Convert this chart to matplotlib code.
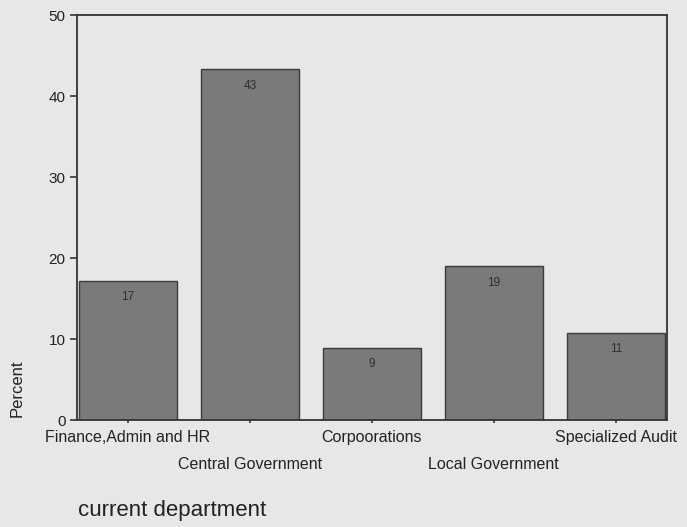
import matplotlib.pyplot as plt
import numpy as np

# data
departments = ["Finance,Admin and HR", "Central Government", "Corpoorations",
               "Local Government", "Specialized Audit"]
percents = [17.2, 43.3, 8.9, 19.0, 10.8]
bar_labels = ["17", "43", "9", "19", "11"]
y_ticks = [0, 10, 20, 30, 40, 50]

plt.rcParams['font.family'] = ['Liberation Sans', 'DejaVu Sans']

bg = "#e7e7e7"
fig = plt.figure(figsize=(6.87, 5.27), dpi=100, facecolor=bg)
ax = fig.add_axes([0.1115, 0.203, 0.8595, 0.7685])
ax.set_facecolor(bg)

x = np.arange(len(departments))
bars = ax.bar(x, percents, width=0.8, color="#7a7a7a", edgecolor="#3a3a3a",
              linewidth=1.0, zorder=2)

# value labels sit just inside the top of each bar
for b, lab in zip(bars, bar_labels):
    ax.text(b.get_x() + b.get_width() / 2, b.get_height() - 1.3, lab,
            ha="center", va="top", fontsize=8.5, color="#2e2e2e", zorder=3)

ax.set_xlim(-0.42, 4.42)
ax.set_ylim(0, 50)
ax.set_yticks(y_ticks)
ax.set_yticklabels([str(t) for t in y_ticks], fontsize=11, color="#222222")
ax.tick_params(axis="y", length=5, width=1.2, color="#333333", pad=3)

ax.set_xticks(x)
ax.set_xticklabels([])
ax.tick_params(axis="x", length=4, width=1.2, color="#333333", direction="inout")

# staggered category labels (SPSS style)
for i, name in enumerate(departments):
    off = -0.025 if i % 2 == 0 else -0.091
    ax.text(i, off, name, transform=ax.get_xaxis_transform(), ha="center",
            va="top", fontsize=11.5, color="#222222")

for s in ax.spines.values():
    s.set_color("#333333")
    s.set_linewidth(1.3)

fig.text(0.025, 0.264, "Percent", rotation=90, ha="center", va="center",
         fontsize=12, color="#222222")
fig.text(0.114, 0.032, "current department", ha="left", va="center",
         fontsize=16, color="#222222")

fig.savefig("out.png", dpi=100, facecolor=bg)
